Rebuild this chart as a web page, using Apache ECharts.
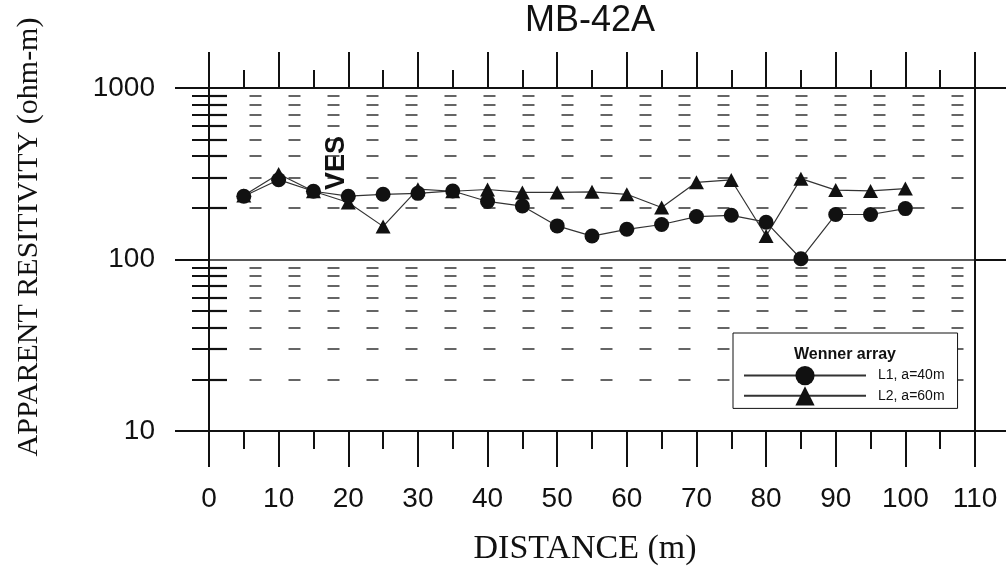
<!DOCTYPE html>
<html>
<head>
<meta charset="utf-8">
<script src="https://cdn.jsdelivr.net/npm/echarts@6/dist/echarts.min.js"></script>
<style>
html,body{margin:0;padding:0;background:#ffffff;}
#chart{width:1006px;height:574px;}
</style>
</head>
<body>
<div id="chart"></div>
<script>
// ---- data ----
const distance = [5, 10, 15, 20, 25, 30, 35, 40, 45, 50, 55, 60, 65, 70, 75, 80, 85, 90, 95, 100];
const l1Values = [234, 292, 250, 234, 240, 243, 251, 218, 205, 157, 137, 150, 160, 178, 181, 165, 101, 183, 183, 198];
const l2Values = [236, 315, 250, 215, 156, 257, 250, 256, 246, 246, 248, 240, 201, 282, 291, 137, 296, 254, 251, 259];
const seriesNames = ['L1, a=40m', 'L2, a=60m'];
const yMajorTicks = [10, 100, 1000];
const yMinorTicks = [20, 30, 40, 50, 60, 70, 80, 90, 200, 300, 400, 500, 600, 700, 800, 900];
const xMin = 0, xMax = 110, xStep = 10;
const chartTitle = 'MB-42A';
const xName = 'DISTANCE (m)';
const yName = 'APPARENT RESITIVITY (ohm-m)';
const legendTitle = 'Wenner array';
const annotation = 'VES';

const pairs = (xs, ys) => xs.map((x, i) => [x, ys[i]]);

const INK = '#111';
const sans = "'Liberation Sans', Arial, sans-serif";
const serif = "'Liberation Serif', 'Times New Roman', serif";

const chart = echarts.init(document.getElementById('chart'), null, {renderer: 'canvas'});

const xCommon = {
  type: 'value', min: xMin, max: xMax, interval: xStep,
  axisLine: {show: true, onZero: false, lineStyle: {color: INK, width: 2}},
  axisTick: {show: true, length: 36, lineStyle: {color: INK, width: 2}},
  minorTick: {show: true, splitNumber: 2, length: 18, lineStyle: {color: INK, width: 2}},
  splitLine: {show: false},
  minorSplitLine: {show: false}
};

const yCommon = {type: 'log', logBase: 10, min: 10, max: 1000};

chart.setOption({
  animation: false,
  backgroundColor: '#ffffff',
  grid: {left: 209, right: 31, top: 88, bottom: 143, containLabel: false, outerBoundsMode: 'none'},
  xAxis: [
    Object.assign({}, xCommon, {
      position: 'bottom',
      axisLabel: {show: true, fontSize: 28, margin: 54, color: INK, fontFamily: sans}
    }),
    Object.assign({}, xCommon, {position: 'top', axisLabel: {show: false}})
  ],
  yAxis: [
    Object.assign({}, yCommon, {
      position: 'left',
      axisLine: {show: true, onZero: false, lineStyle: {color: INK, width: 2}},
      axisTick: {show: true, length: 34, customValues: yMajorTicks, lineStyle: {color: INK, width: 2}},
      axisLabel: {show: true, fontSize: 28, margin: 54, color: INK, fontFamily: sans, customValues: yMajorTicks,
        formatter: v => String(Math.round(v))},
      splitLine: {show: true, lineStyle: {color: '#222', width: 1.5}}
    }),
    Object.assign({}, yCommon, {
      position: 'left',
      axisLine: {show: false},
      axisTick: {show: true, length: 17, customValues: yMinorTicks, lineStyle: {color: INK, width: 2}},
      axisLabel: {show: false},
      splitLine: {show: true, lineStyle: {color: '#333', width: 1.6, type: [12, 27], dashOffset: -1.5}}
    }),
    Object.assign({}, yCommon, {
      position: 'right',
      axisLine: {show: true, onZero: false, lineStyle: {color: INK, width: 2}},
      axisTick: {show: true, length: 40, customValues: yMajorTicks, lineStyle: {color: INK, width: 2}},
      axisLabel: {show: false},
      splitLine: {show: false}
    }),
    Object.assign({}, yCommon, {
      position: 'right',
      axisLine: {show: false},
      axisTick: {show: true, length: 18, customValues: yMinorTicks, lineStyle: {color: INK, width: 2.2}},
      axisLabel: {show: false},
      splitLine: {show: false}
    })
  ],
  legend: {
    data: seriesNames,
    orient: 'vertical',
    left: 733, top: 333,
    padding: [33, 13, 3, 10],
    itemWidth: 122, itemHeight: 24, itemGap: 1,
    backgroundColor: '#ffffff',
    borderColor: INK, borderWidth: 1, borderRadius: 0,
    textStyle: {fontSize: 14, color: INK, fontFamily: sans, padding: [0, 0, 0, 7]}
  },
  series: [
    {
      name: seriesNames[1], type: 'line', xAxisIndex: 0, yAxisIndex: 0,
      data: pairs(distance, l2Values),
      symbol: 'triangle', symbolSize: [15, 14],
      itemStyle: {color: INK},
      lineStyle: {color: '#333', width: 1.2},
      z: 3
    },
    {
      name: seriesNames[0], type: 'line', xAxisIndex: 0, yAxisIndex: 0,
      data: pairs(distance, l1Values),
      symbol: 'circle', symbolSize: 15,
      itemStyle: {color: INK},
      lineStyle: {color: '#333', width: 1.2},
      z: 4
    }
  ],
  graphic: [
    {type: 'text', z: 100, x: 590, y: 21, style: {text: chartTitle, fontSize: 36, fontFamily: sans, fill: INK, align: 'center', verticalAlign: 'middle'}},
    {type: 'text', z: 100, x: 585, y: 549, style: {text: xName, fontSize: 34, fontFamily: serif, fill: INK, align: 'center', verticalAlign: 'middle'}},
    {type: 'text', z: 100, x: 29, y: 237, rotation: Math.PI / 2, style: {text: yName, fontSize: 30, fontFamily: serif, fill: INK, align: 'center', verticalAlign: 'middle'}},
    {type: 'text', z: 100, x: 337, y: 163, rotation: Math.PI / 2, style: {text: annotation, fontSize: 27, fontWeight: 'bold', fontFamily: "'Liberation Sans Narrow', 'Arial Narrow', 'Liberation Sans', Arial, sans-serif", fill: INK, align: 'center', verticalAlign: 'middle'}},
    {type: 'text', z: 100, x: 845, y: 355, style: {text: legendTitle, fontSize: 16, fontWeight: 'bold', fontFamily: sans, fill: INK, align: 'center', verticalAlign: 'middle'}}
  ]
});
</script>
</body>
</html>
